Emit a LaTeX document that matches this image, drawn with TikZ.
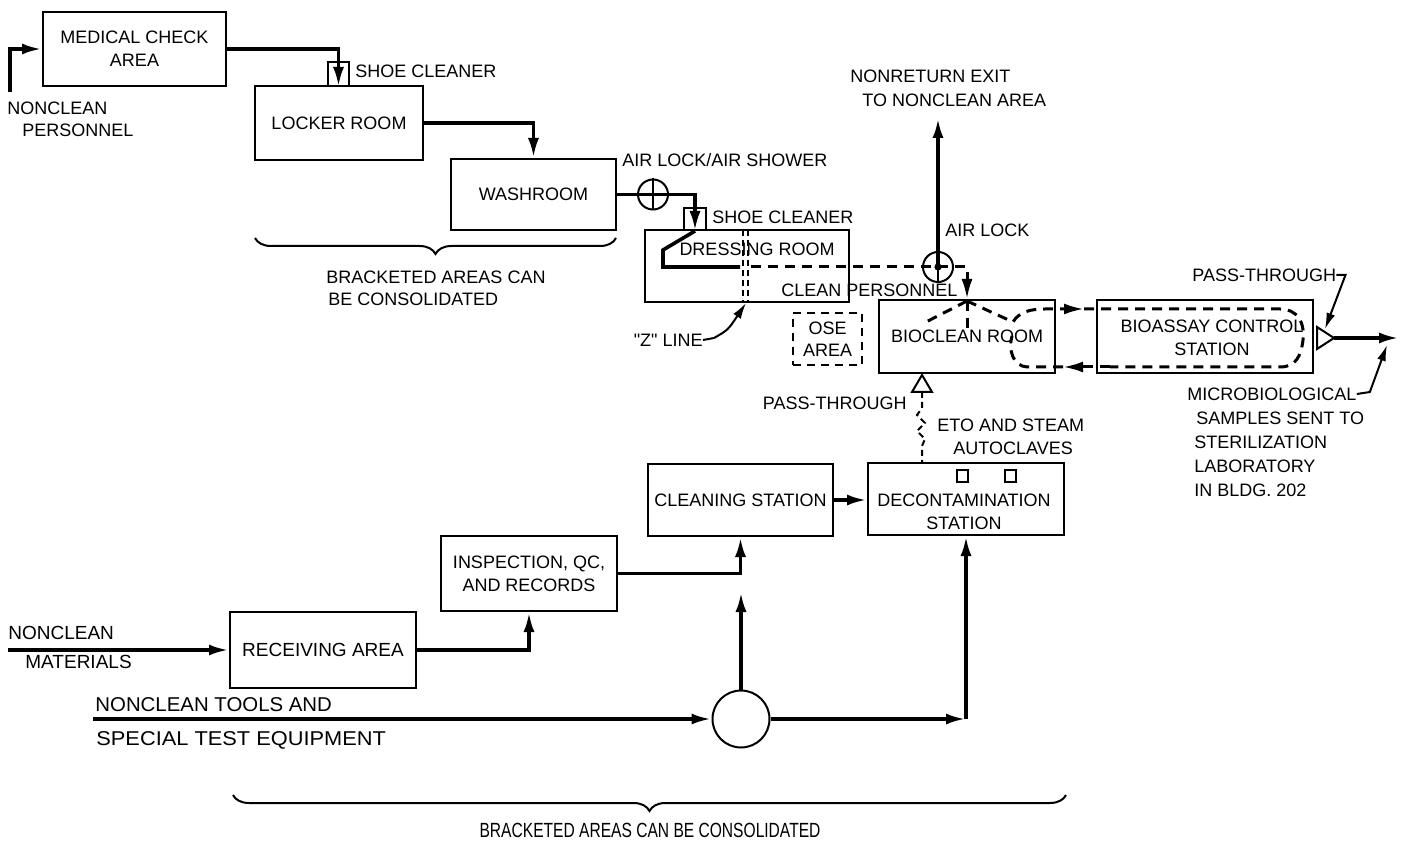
\documentclass[tikz,border=0pt]{standalone}
\usepackage{fontspec}
\setmainfont{Liberation Sans}[Ligatures=TeXOff]
\usetikzlibrary{arrows.meta,shapes.geometric,decorations.pathreplacing}
\begin{document}
\begin{tikzpicture}[x=0.5pt,y=-0.5pt,
  font=\fontsize{9}{11.5}\selectfont,
  box/.style={draw,line width=1pt,inner sep=0pt,align=center},
  flow/.style={line width=1.8pt,-{Latex[length=10pt,width=5.5pt]}},
  thickline/.style={line width=1.8pt},
  dflow/.style={line width=1.5pt,dash pattern=on 5pt off 3.5pt},
  dflowarr/.style={line width=1.5pt,dash pattern=on 5pt off 3.5pt,-{Latex[length=10pt,width=5.5pt]}},
  lbl/.style={inner sep=0pt,align=left},
  lock/.style={draw,circle,line width=1pt,minimum size=15pt,inner sep=0pt},
  shoe/.style={draw,line width=1pt,inner sep=0pt},
  leader/.style={line width=1pt,-{Latex[length=8pt,width=4.5pt]}},
  thin/.style={line width=1pt},
  brc/.style={line width=1pt,decorate,decoration={brace,mirror,amplitude=8pt}}
]
\useasboundingbox (0,0) rectangle (1402,844);
\fill[white] (0,0) rectangle (1402,844);

% ---------- boxes ----------
\node[box,minimum width=91.5pt,minimum height=37pt] (med) at (134.5,49) {MEDICAL CHECK\\AREA};
\node[box,minimum width=84pt,minimum height=37pt] (locker) at (339,123) {LOCKER ROOM};
\node[box,minimum width=82.5pt,minimum height=35.5pt] (wash) at (533.5,194.5) {WASHROOM};
\node[box,minimum width=102pt,minimum height=36pt] (dress) at (747,266) {};
\node[lbl] (dresst) at (757,249) {DRESSING ROOM};
\node[box,minimum width=88pt,minimum height=36.5pt] (bioclean) at (967,336.5) {BIOCLEAN ROOM};
\node[box,minimum width=108pt,minimum height=36.5pt] (bioassay) at (1205,336.5) {};
\node[lbl,align=center] (bioassayt) at (1212,338) {BIOASSAY CONTROL\\STATION};
\node[box,dash pattern=on 4pt off 3pt,minimum width=34.5pt,minimum height=26pt,font=\fontsize{9}{11}\selectfont] (ose) at (827.5,339) {OSE\\AREA};
\node[box,minimum width=92.5pt,minimum height=36pt] (clean) at (740.5,500) {CLEANING STATION};
\node[box,minimum width=98pt,minimum height=36pt] (decon) at (966,499) {};
\node[lbl,align=center] (decont) at (964,511.5) {DECONTAMINATION\\STATION};
\node[shoe,minimum width=5.5pt,minimum height=6pt] (sq1) at (962.5,476) {};
\node[shoe,minimum width=5.5pt,minimum height=6pt] (sq2) at (1010.5,476) {};
\node[box,minimum width=88pt,minimum height=37.5pt] (insp) at (529,573.5) {INSPECTION, QC,\\AND RECORDS};
\node[box,minimum width=93pt,minimum height=38pt] (recv) at (323,650) {\fontsize{9.5}{11}\selectfont RECEIVING AREA};
\node[draw,circle,line width=1pt,minimum size=28.5pt,inner sep=0pt] (circ) at (741,719) {};

% shoe cleaners and air locks
\node[shoe,minimum width=10.5pt,minimum height=12pt] (sc1) at (338.5,74) {};
\node[shoe,minimum width=11pt,minimum height=11pt] (sc2) at (695,219) {};
\node[lock] (al1) at (653,194.5) {};
\node[lock] (al2) at (938,267) {};

% ---------- labels ----------
\node[lbl,anchor=west] (np1) at (7,108) {NONCLEAN};
\node[lbl,anchor=west] (np2) at (22,130) {PERSONNEL};
\node[lbl,anchor=west] (sct1) at (355,71) {SHOE CLEANER};
\node[lbl,anchor=west] (alt1) at (622,160) {AIR LOCK/AIR SHOWER};
\node[lbl,anchor=west] (sct2) at (712,217) {SHOE CLEANER};
\node[lbl] (br1a) at (436,277) {BRACKETED AREAS CAN};
\node[lbl,anchor=west] (br1b) at (328,299) {BE CONSOLIDATED};
\node[lbl,anchor=west] (ne1) at (850,76) {NONRETURN EXIT};
\node[lbl,anchor=west] (ne2) at (862,100) {TO NONCLEAN AREA};
\node[lbl,anchor=west] (alt2) at (945,230) {AIR LOCK};
\node[lbl,anchor=west] (cp) at (781,290) {CLEAN PERSONNEL};
\node[lbl,anchor=east] (zl) at (703,340) {"Z" LINE};
\node[lbl,anchor=west] (ptr) at (1192,275) {PASS-THROUGH};
\node[lbl,anchor=west] (mic1) at (1187,394) {MICROBIOLOGICAL};
\node[lbl,anchor=west] (mic2) at (1196,418) {SAMPLES SENT TO};
\node[lbl,anchor=west] (mic3) at (1194,442) {STERILIZATION};
\node[lbl,anchor=west] (mic4) at (1194,466) {LABORATORY};
\node[lbl,anchor=west] (mic5) at (1194,490) {IN BLDG. 202};
\node[lbl,anchor=east] (ptl) at (907,403) {PASS-THROUGH};
\node[lbl,anchor=west] (eto1) at (937,425) {ETO AND STEAM};
\node[lbl,anchor=west] (eto2) at (953,448) {AUTOCLAVES};
\node[lbl,anchor=west,font=\fontsize{9.5}{11}\selectfont] (nm1) at (8,633) {NONCLEAN};
\node[lbl,anchor=west,font=\fontsize{9.5}{11}\selectfont] (nm2) at (25,662) {MATERIALS};
\node[lbl,anchor=west,font=\fontsize{10}{11}\selectfont] (nt1) at (95,705) {\scalebox{1.02}[1]{NONCLEAN TOOLS AND}};
\node[lbl,anchor=west,font=\fontsize{10}{11}\selectfont] (nt2) at (96,740) {\scalebox{1.09}[1]{SPECIAL TEST EQUIPMENT}};
\node[lbl,font=\fontsize{9.5}{11}\selectfont] (br2) at (650,830) {\scalebox{0.82}[1.08]{BRACKETED AREAS CAN BE CONSOLIDATED}};

% ---------- coordinates ----------
\coordinate (np) at (10,92);
\coordinate (dz1) at (740,267);
\coordinate (dz2) at (751,267);
\coordinate (exit) at (938,118);
\coordinate (apex) at (967,301);
\coordinate (nm) at (8,650);
\coordinate (nt) at (93,719);
\coordinate (cup) at (741,592);
\coordinate (cor) at (966,719);
\coordinate (out) at (1399,338);

% pass-through triangles
\coordinate (pt1b) at (1317,338);
\coordinate (pt1a) at (1334,338);
\draw[thin] (1317,327) -- (pt1a) -- (1317,349) -- cycle;
\coordinate (pt2a) at (922,375);
\coordinate (pt2b) at (922,392);
\draw[thin] (pt2a) -- (932,392) -- (912,392) -- cycle;

% ---------- personnel flow ----------
\draw[flow] (np) |- (med.west);
\draw[flow] (med.east) -| (sc1.south);
\draw[flow] (locker.east) -| (wash.north);
\draw[flow] (wash.east) -| (sc2.south);
\draw[thin] (al1.north) -- (al1.south);
\draw[thickline] (sc2.south) -- (663,250) -- (663,267) -- (dz1);
\draw[dflowarr] (dz2) -| (bioclean.north);
\draw[thin] (al2.north) -- (al2.south);
\draw[flow] (al2.center) -- (exit);
\fill (al2.center) circle (1.8pt);

% Z line
\draw[thin,dash pattern=on 3pt off 2pt] (743,230) -- (743,302);
\draw[thin,dash pattern=on 3pt off 2pt] (748,230) -- (748,302);
\draw[leader] (zl.east) -- ++(11,-2) .. controls (728,330) .. (746,303);

% fan in bioclean room and loop to bioassay
\draw[dflow] (apex) -- (926,322);
\draw[dflow] (apex) -- (967,328);
\draw[dflowarr] (apex) -- (1013,322) .. controls (1019,312) and (1030,309) .. (1045,309) -- (1084,309);
\draw[dflow] (1084,309) -- (1280,309) .. controls (1297,309) and (1305,322) .. (1303,340) .. controls (1301,356) and (1296,367) .. (1280,367) -- (1110,367);
\draw[dflowarr] (1110,367) -- (1063,367);
\draw[dflow] (1063,367) -- (1027,367) .. controls (1013,366) and (1008,350) .. (1012,336);

% output of bioassay
\draw[flow] (pt1a) -- (out);
\draw[leader] (ptr.east) -- ++(9,0) -- (1325,329);
\draw[leader] (mic1.east) -- ++(13,-2) -- (1387,345);

% autoclave pass-through
\coordinate (dtop) at (922,463);
\draw[thin,dash pattern=on 3pt off 2pt] (pt2b) -- (922,408) -- (917,415) -- (925,423) -- (917,431) -- (925,439) -- (922,446) -- (dtop);

% ---------- materials flow ----------
\draw[flow] (nm) -- (recv.west);
\draw[flow] (recv.east) -| (insp.south);
\draw[flow] (insp.east) -| (clean.south);
\draw[flow] (clean.east) -- (clean.east -| decon.west);
\draw[flow] (nt) -- (circ.west);
\draw[flow] (circ.north) -- (cup);
\draw[flow] (circ.east) -- (cor);
\draw[flow] (cor) -- (decon.south);

% ---------- brackets ----------
\draw[brc] (255,238) -- (616,238);
\draw[brc] (233,795) -- (1066,795);
\end{tikzpicture}
\end{document}
